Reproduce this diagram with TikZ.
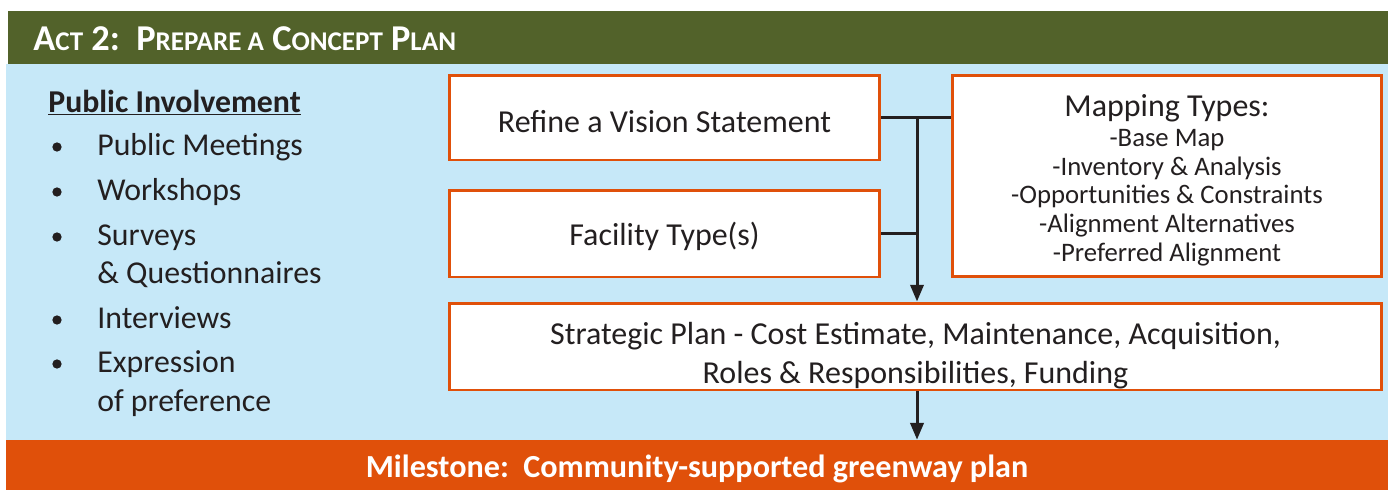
\documentclass[tikz,border=0pt]{standalone}
\usepackage{fontspec}
\setmainfont{Carlito}
\usetikzlibrary{arrows.meta}

\definecolor{actgreen}{RGB}{82,98,42}
\definecolor{skyblue}{RGB}{198,232,248}
\definecolor{planorange}{RGB}{224,80,10}
\definecolor{inkgray}{RGB}{35,31,32}

\newcommand{\capsize}{\fontsize{20.7}{24}\selectfont}
\newcommand{\scsize}{\fontsize{15.4}{18}\selectfont}

\begin{document}
\begin{tikzpicture}[x=0.02cm, y=-0.02cm,
        stepbox/.style={draw=planorange, fill=white, line width=1.7pt, rectangle, inner sep=0pt, text=inkgray, font=\fontsize{18.2}{22.2}\selectfont, align=center},
        link/.style={draw=inkgray, line width=1.7pt},
        tip/.style={-{Triangle[length=9.5pt, width=7.5pt]}},
        item/.style={anchor=base west, inner sep=0pt, text=inkgray, font=\fontsize{18.1}{22}\selectfont},
        dot/.style={circle, fill=inkgray, minimum size=5.3pt, inner sep=0pt}
    ]
        \useasboundingbox (0,0) rectangle (1388,490);

        % bands
        \fill[actgreen] (8,11) rectangle (1388,64);
        \fill[skyblue] (6,64) rectangle (1388,440);
        \node[fill=planorange, minimum width=27.64cm, minimum height=1cm, inner sep=0pt, text=white, font=\bfseries\fontsize{18.3}{22}\selectfont] (milestone) at (697,465) {\rule{0pt}{17pt}Milestone:\ \ Community-supported greenway plan};

        \node[anchor=base west, inner sep=0pt, text=white, font=\bfseries\capsize] (title) at (33,50) {A{\scsize CT} 2:\ \ P{\scsize REPARE A} C{\scsize ONCEPT} P{\scsize LAN}};

        % public involvement
        \node[item, font=\bfseries\fontsize{18.1}{22}\selectfont] (pi) at (48,112) {\underline{Public Involvement}};
        \node[item] (t1) at (97,155) {Public Meetings};
        \node[item] (t2) at (97,200) {Workshops};
        \node[item] (t3) at (97,245) {Surveys};
        \node[item] (t3b) at (97,283) {\& Questionnaires};
        \node[item] (t4) at (97,328) {Interviews};
        \node[item] (t5) at (97,372) {Expression};
        \node[item] (t5b) at (97,411) {of preference};
        \node[dot] (b1) at (57,147) {};
        \node[dot] (b2) at (57,192) {};
        \node[dot] (b3) at (57,237) {};
        \node[dot] (b4) at (57,320) {};
        \node[dot] (b5) at (57,364) {};

        % boxes
        \node[stepbox, minimum width=8.62cm, minimum height=1.7cm] (refine) at (664.5,117.5) {\rule{0pt}{17pt}Refine a Vision Statement};
        \node[stepbox, minimum width=8.62cm, minimum height=1.74cm] (facility) at (664.5,233.5) {\rule{0pt}{17pt}Facility Type(s)};
        \node[stepbox, minimum width=8.6cm, minimum height=4.04cm, font=\fontsize{15.2}{16.3}\selectfont] (mapping) at (1167,176) {{\fontsize{18.2}{20}\selectfont\rule{0pt}{17pt}Mapping Types:}\\[1pt] -Base Map\\ -Inventory \& Analysis\\ -Opportunities \& Constraints\\ -Alignment Alternatives\\ -Preferred Alignment};
        \node[stepbox, minimum width=18.66cm, minimum height=1.74cm] (strategic) at (915.5,346.5) {\rule{0pt}{22.7pt}Strategic Plan - Cost Estimate, Maintenance, Acquisition,\\ Roles \& Responsibilities, Funding};

        \coordinate (jn) at (917,117.5);

        \draw[link] (refine.east) -- (mapping.west |- refine.east);
        \draw[link] (facility.east) -- (facility.east -| jn);
        \draw[link, tip] (jn) -- (strategic.north -| jn);
        \draw[link, tip] (strategic.south -| jn) -- (milestone.north -| jn);
    \end{tikzpicture}
\end{document}
